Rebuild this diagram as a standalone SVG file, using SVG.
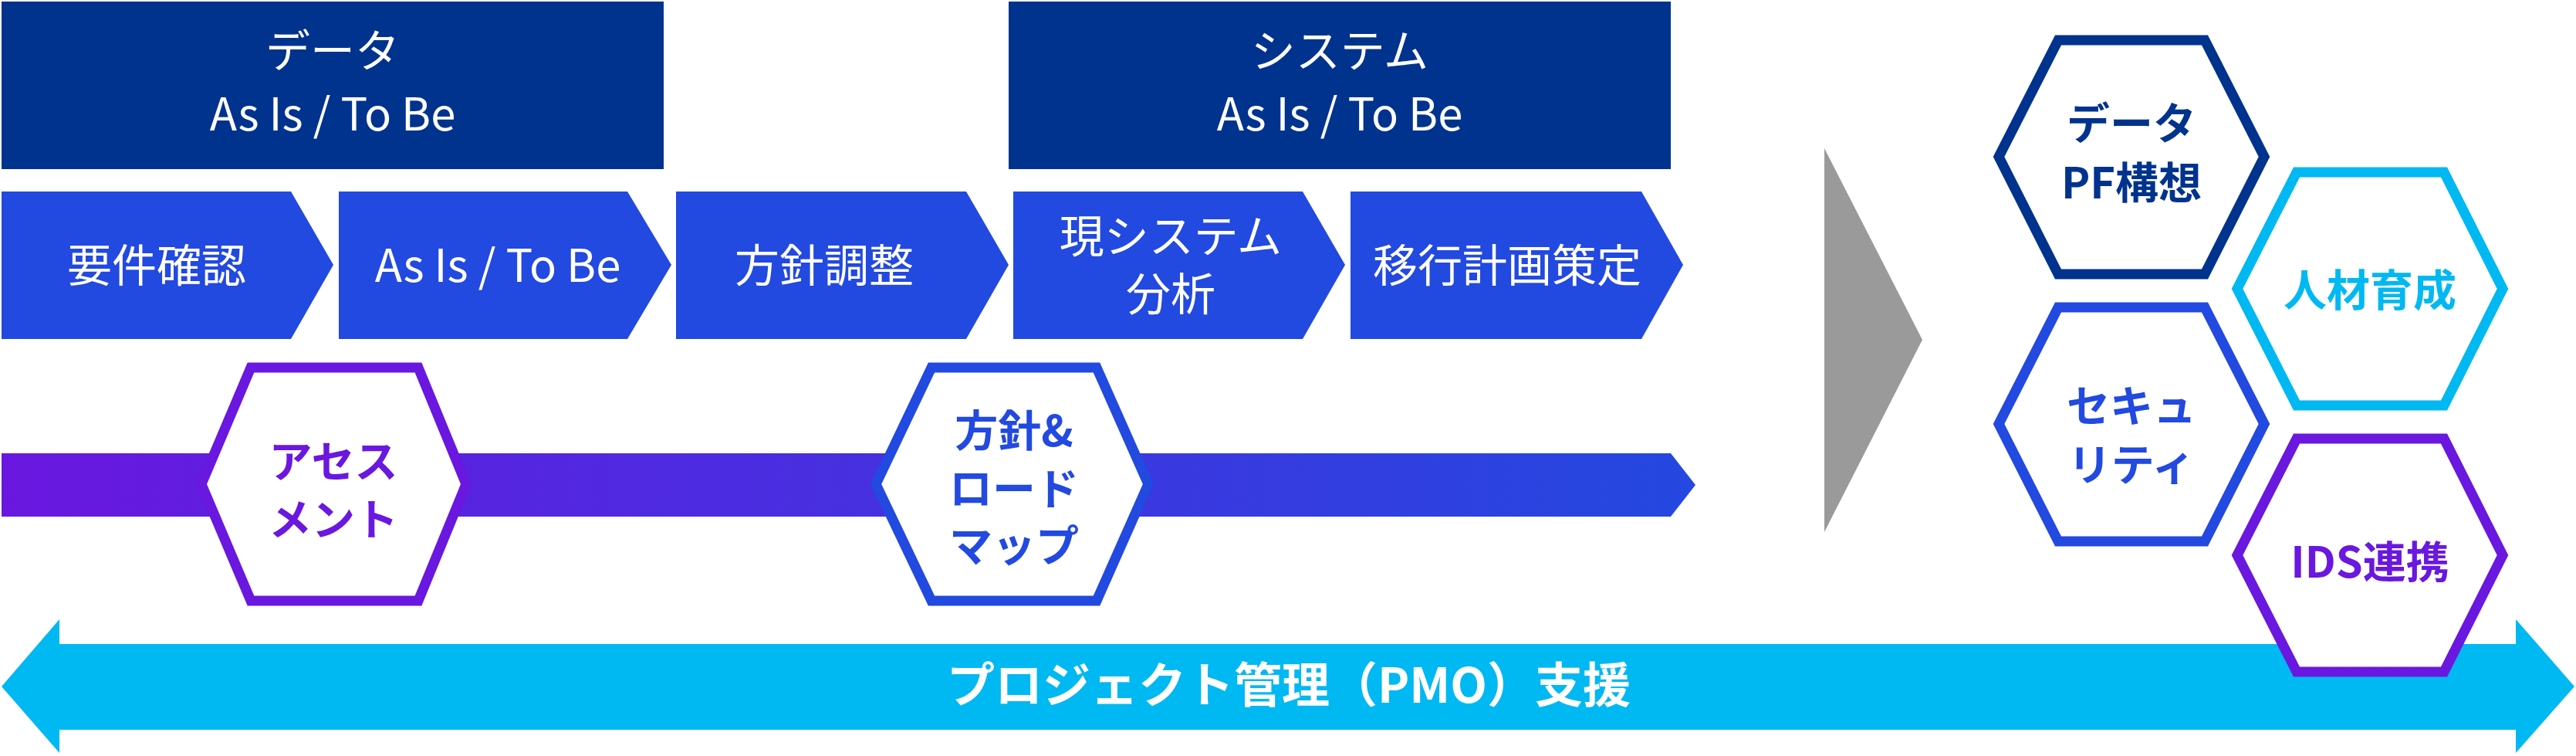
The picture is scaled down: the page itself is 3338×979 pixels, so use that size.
<svg xmlns="http://www.w3.org/2000/svg" width="3338" height="979" viewBox="0 0 3338 979">
<defs>
<linearGradient id="band" x1="0" y1="0" x2="1" y2="0"><stop offset="0" stop-color="#6a17e0"/><stop offset="1" stop-color="#2448e0"/></linearGradient>
<style>
text{font-family:"Noto Sans CJK JP","Noto Sans",sans-serif;text-anchor:middle}
.w{fill:#fff;font-size:58px}
.b{font-weight:bold;font-size:56px}
.hex{fill:#fff;stroke-width:13}
.chev{fill:#2249e0}
</style>
</defs>
<g id="connectors">
<path d="M2 587H2165L2197 628L2165 669H2 Z" fill="url(#band)"/>
<path d="M2 889L77 802V834H3260V802L3336 889L3260 975V945H77V975Z" fill="#00b8f2"/>
<path d="M2364 192L2491 440L2364 689Z" fill="#9a9a9a"/>
</g>
<g id="data-box"><rect x="2" y="2" width="858" height="217" fill="#00338d"/><text class="w" x="431" y="87">データ</text><text class="w" x="431" y="169">As Is / To Be</text></g>
<g id="system-box"><rect x="1307" y="2" width="858" height="217" fill="#00338d"/><text class="w" x="1736" y="87">システム</text><text class="w" x="1736" y="169">As Is / To Be</text></g>
<g id="c1"><path class="chev" d="M2 248H377L432 343L377 439H2Z"/><text class="w" x="203" y="365">要件確認</text></g>
<g id="c2"><path class="chev" d="M439 248H813L870 343L813 439H439Z"/><text class="w" x="645" y="365">As Is / To Be</text></g>
<g id="c3"><path class="chev" d="M876 248H1252L1307 343L1252 439H876Z"/><text class="w" x="1068" y="365">方針調整</text></g>
<g id="c4"><path class="chev" d="M1313 248H1688L1743 343L1688 439H1313Z"/><text class="w" x="1517" y="327">現システム</text><text class="w" x="1517" y="402">分析</text></g>
<g id="c5"><path class="chev" d="M1750 248H2127L2181 343L2127 439H1750Z"/><text class="w" x="1953" y="365">移行計画策定</text></g>
<g id="assessment"><path class="hex" stroke="#6a17e0" d="M325 476H542L604 627L542 778H325L261 627Z"/><text class="b" fill="#6a17e0" x="432" y="618">アセス</text><text class="b" fill="#6a17e0" x="432" y="693">メント</text></g>
<g id="roadmap"><path class="hex" stroke="#2249e0" d="M1207 476H1421L1488 627L1421 778H1207L1135 627Z"/><text class="b" fill="#2249e0" x="1314" y="578">方針&amp;</text><text class="b" fill="#2249e0" x="1314" y="653">ロード</text><text class="b" fill="#2249e0" x="1314" y="727">マップ</text></g>
<g id="pmo"><text class="b" fill="#fff" x="1670" y="910" style="font-size:62px">プロジェクト管理（PMO）支援</text></g>
<g id="hex-data"><path class="hex" stroke="#00338d" d="M2667 52H2857L2934 203L2857 355H2667L2590 203Z"/><text class="b" fill="#00338d" x="2762" y="180">データ</text><text class="b" fill="#00338d" x="2762" y="257">PF構想</text></g>
<g id="hex-sec"><path class="hex" stroke="#2249e0" d="M2667 398H2857L2934 549L2857 701H2667L2590 549Z"/><text class="b" fill="#2249e0" x="2762" y="546">セキュ</text><text class="b" fill="#2249e0" x="2762" y="622">リティ</text></g>
<g id="hex-hr"><path class="hex" stroke="#00b8f2" d="M2976 223H3167L3243 374L3167 525H2976L2899 374Z"/><text class="b" fill="#00b8f2" x="3071" y="396">人材育成</text></g>
<g id="hex-ids"><path class="hex" stroke="#6a17e0" d="M2976 568H3167L3243 719L3167 870H2976L2899 719Z"/><text class="b" fill="#6a17e0" x="3071" y="748">IDS連携</text></g>
</svg>
